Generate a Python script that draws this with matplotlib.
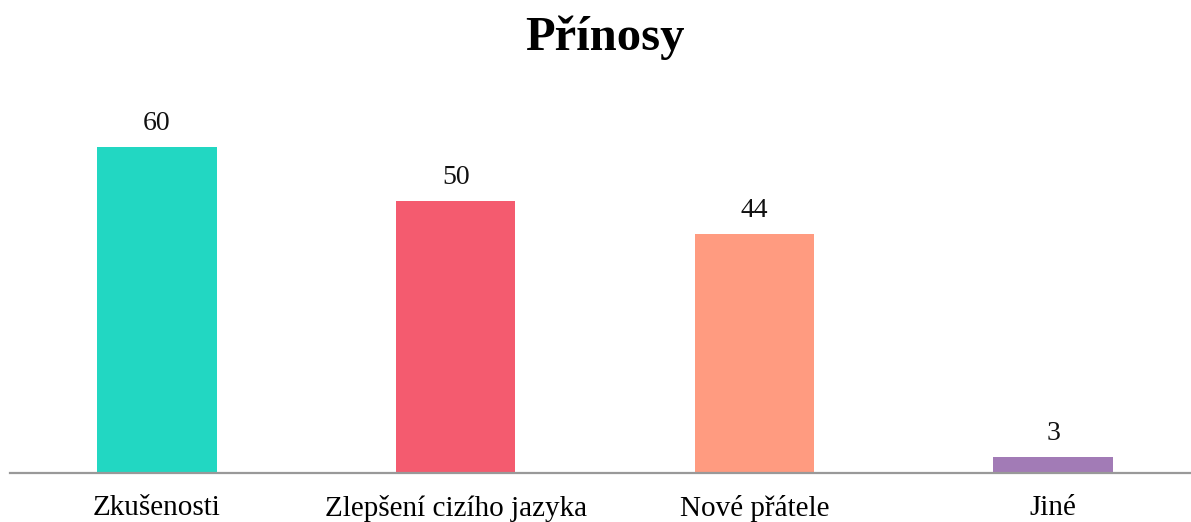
import numpy as np
import matplotlib as mpl
import matplotlib.pyplot as plt

mpl.rcParams.update({"font.family": ["Liberation Serif", "DejaVu Serif"]})

categories = ["Zkušenosti", "Zlepšení cizího jazyka", "Nové přátele", "Jiné"]
values = [60, 50, 44, 3]
colors = ["#22D7C2", "#F45B6F", "#FF9B80", "#A27BB6"]

W, H = 1191, 522
fig = plt.figure(figsize=(W / 100, H / 100), dpi=100)
# axis spans x 10..1191 px, baseline at y=473 px from top
ax = fig.add_axes([10 / W, 49 / H, 1181 / W, 393 / H])

x = np.arange(len(categories))
ax.bar(x, values, width=0.40, color=colors, zorder=2)
for xi, v in zip(x, values):
    ax.text(xi, v + 2.0, str(v), ha="center", va="bottom", fontsize=20, color="#111")

ax.set_xlim(-0.492, 3.462)
ax.set_ylim(0, 72.3)
ax.set_xticks(x)
ax.set_xticklabels(categories, fontsize=21)
ax.tick_params(axis="x", length=0, pad=16)
ax.set_yticks([])
for s in ["top", "right", "left"]:
    ax.spines[s].set_visible(False)
ax.spines["bottom"].set_color("#999999")
ax.spines["bottom"].set_linewidth(1.6)

fig.text(605 / W, 1 - 38 / H, "Přínosy", ha="center", va="center",
         fontsize=35, fontweight="bold")

fig.savefig("out.png", dpi=100)
